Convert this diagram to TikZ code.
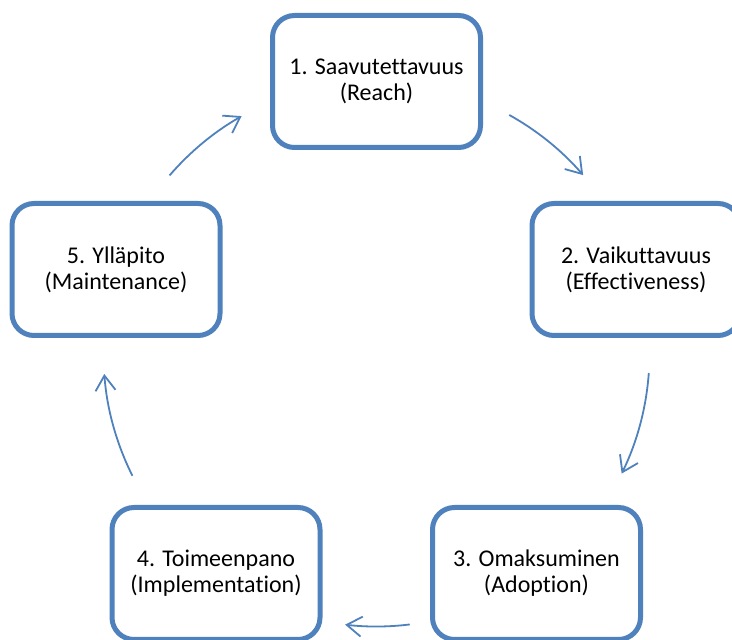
\documentclass[tikz,border=0pt]{standalone}
\usepackage{fontspec}
\setmainfont{Carlito}[Ligatures=NoCommon]
\usetikzlibrary{arrows.meta,calc}
\definecolor{ablue}{RGB}{79,129,189}

\begin{document}
\begin{tikzpicture}[x=1pt,y=1pt,
stage/.style={draw=ablue,line width=5pt,rounded corners=22pt,
minimum width=208pt,minimum height=132pt,inner sep=0pt,
align=center,font=\fontsize{24}{26}\selectfont},
cyc/.style={draw=ablue,line width=1.8pt,
-{Straight Barb[length=15pt,width=20pt]}}]
\clip (0,0) rectangle (732,640);
\coordinate (c) at (376.5,286.5);
\node[stage] (reach) at (376.5,558.5) {1. Saavutettavuus\\(Reach)};
\node[stage] (effect) at (636,370.5) {2. Vaikuttavuus\\(Effectiveness)};
\node[stage] (adopt) at (536.5,66.5) {3. Omaksuminen\\(Adoption)};
\node[stage] (impl) at (216,66.5) {4. Toimeenpano\\(Implementation)};
\node[stage] (maint) at (116,370.5) {5. Ylläpito\\(Maintenance)};
% arrows round the cycle
\coordinate (s1) at ($(c)+(60.9:273)$);
\coordinate (s2) at ($(c)+(-4.1:273)$);
\coordinate (s3) at ($(c)+(-83:273)$);
\coordinate (s4) at ($(c)+(206.6:273)$);
\coordinate (s5) at ($(c)+(139.3:273)$);
\draw[cyc] (s1) arc[start angle=60.9,end angle=40.8,radius=273];
\draw[cyc] (s2) arc[start angle=-4.1,end angle=-26.1,radius=273];
\draw[cyc] (s3) arc[start angle=-83,end angle=-96.6,radius=273];
\draw[cyc] (s4) arc[start angle=206.6,end angle=184.3,radius=273];
\draw[cyc] (s5) arc[start angle=139.3,end angle=119.6,radius=273];
\end{tikzpicture}
\end{document}
